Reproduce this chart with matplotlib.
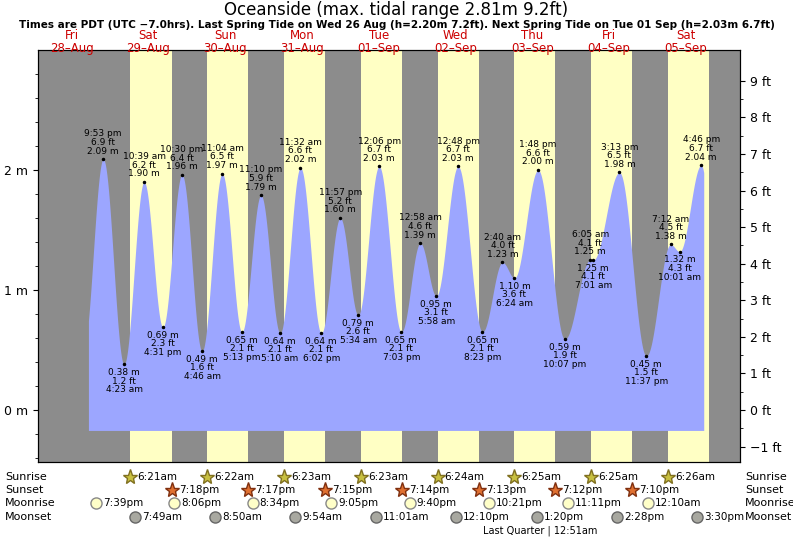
import matplotlib
matplotlib.use("Agg")
import matplotlib.pyplot as plt
import matplotlib.transforms as mtrans
import numpy as np

# hours from 28-Aug 00:00
def h(day, hh, mm):  # day offset from 28-Aug
    return day*24 + hh + mm/60

tide_times = [h(0,21,53), h(1,4,23), h(1,10,39), h(1,16,31), h(1,22,30),
              h(2,4,46), h(2,11,4), h(2,17,13), h(2,23,10),
              h(3,5,10), h(3,11,32), h(3,18,2), h(3,23,57),
              h(4,5,34), h(4,12,6), h(4,19,3),
              h(5,0,58), h(5,5,58), h(5,12,48), h(5,20,23),
              h(6,2,40), h(6,6,24), h(6,13,48), h(6,22,7),
              h(7,6,5), h(7,7,1), h(7,15,13), h(7,23,37),
              h(8,7,12), h(8,10,1), h(8,16,46)]
tide_m = [2.09, 0.38, 1.90, 0.69, 1.96, 0.49, 1.97, 0.65, 1.79, 0.64, 2.02, 0.64, 1.60,
          0.79, 2.03, 0.65, 1.39, 0.95, 2.03, 0.65, 1.23, 1.10, 2.00, 0.59,
          1.25, 1.25, 1.98, 0.45, 1.38, 1.32, 2.04]
tide_ft = [6.9, 1.2, 6.2, 2.3, 6.4, 1.6, 6.5, 2.1, 5.9, 2.1, 6.6, 2.1, 5.2,
           2.6, 6.7, 2.1, 4.6, 3.1, 6.7, 2.1, 4.0, 3.6, 6.6, 1.9,
           4.1, 4.1, 6.5, 1.5, 4.5, 4.3, 6.7]
tide_lbl = ["9:53 pm", "4:23 am", "10:39 am", "4:31 pm", "10:30 pm", "4:46 am", "11:04 am", "5:13 pm",
            "11:10 pm", "5:10 am", "11:32 am", "6:02 pm", "11:57 pm", "5:34 am", "12:06 pm", "7:03 pm",
            "12:58 am", "5:58 am", "12:48 pm", "8:23 pm", "2:40 am", "6:24 am", "1:48 pm", "10:07 pm",
            "6:05 am", "7:01 am", "3:13 pm", "11:37 pm", "7:12 am", "10:01 am", "4:46 pm"]
tide_high = [i % 2 == 0 for i in range(len(tide_m))]

sunrise = ["6:21am", "6:22am", "6:23am", "6:23am", "6:24am", "6:25am", "6:25am", "6:26am"]
sunrise_h = [h(1+i, 6, m) for i, m in enumerate([21, 22, 23, 23, 24, 25, 25, 26])]
sunset = ["7:18pm", "7:17pm", "7:15pm", "7:14pm", "7:13pm", "7:12pm", "7:10pm"]
sunset_h = [h(1+i, 19, m) for i, m in enumerate([18, 17, 15, 14, 13, 12, 10])]
sunset_last_h = h(8, 19, 9)
moonrise = ["7:39pm", "8:06pm", "8:34pm", "9:05pm", "9:40pm", "10:21pm", "11:11pm", "12:10am"]
moonrise_h = [h(0,19,39), h(1,20,6), h(2,20,34), h(3,21,5), h(4,21,40), h(5,22,21), h(6,23,11), h(8,0,10)]
moonset = ["7:49am", "8:50am", "9:54am", "11:01am", "12:10pm", "1:20pm", "2:28pm", "3:30pm"]
moonset_h = [h(1,7,49), h(2,8,50), h(3,9,54), h(4,11,1), h(5,12,10), h(6,13,20), h(7,14,28), h(8,15,30)]
days = ["Fri\n28\u2013Aug", "Sat\n29\u2013Aug", "Sun\n30\u2013Aug", "Mon\n31\u2013Aug", "Tue\n01\u2013Sep",
        "Wed\n02\u2013Sep", "Thu\n03\u2013Sep", "Fri\n04\u2013Sep", "Sat\n05\u2013Sep"]

# curve with cosine interpolation
tt = [h(0,15,40)] + tide_times + [h(8,23,0)]
vv = [0.5] + tide_m + [0.5]
xs, ys = [], []
for i in range(len(tt)-1):
    t = np.linspace(tt[i], tt[i+1], 40)
    f = (1 - np.cos(np.pi*(t-tt[i])/(tt[i+1]-tt[i])))/2
    xs.append(t); ys.append(vv[i] + (vv[i+1]-vv[i])*f)
xs = np.concatenate(xs); ys = np.concatenate(ys)
msk = (xs >= 17.2) & (xs <= 209.6)
xs, ys = xs[msk], ys[msk]

fig = plt.figure(figsize=(7.93, 5.39), dpi=100)
ax = fig.add_axes([38/793, 77/539, 702/793, 412/539])
ax.set_facecolor("#8c8c8c")
x0, x1 = 1.5, 220.9
ax.set_xlim(x0, x1)
ax.set_ylim(-0.433, 3.0)
for r, s in zip(sunrise_h, sunset_h + [sunset_last_h]):
    ax.axvspan(r, s, color="#ffffc4", lw=0)
ax.fill_between(xs, -0.17, ys, color="#9ca6ff", lw=0)
for t, m, ft, lb, hi in zip(tide_times, tide_m, tide_ft, tide_lbl, tide_high):
    ax.plot(t, m, "k.", ms=3)
    if hi:
        ax.text(t, m+0.03, f"{lb}\n{ft} ft\n{m:.2f} m", ha="center", va="bottom", fontsize=6.5, linespacing=0.95)
    else:
        ax.text(t, m-0.03, f"{m:.2f} m\n{ft} ft\n{lb}", ha="center", va="top", fontsize=6.5, linespacing=0.95)
ax.set_xticks([])
ax.set_yticks([0, 1, 2])
ax.set_yticklabels(["0 m", "1 m", "2 m"], fontsize=9)
ax.set_yticks(np.arange(-0.4, 3.0, 0.2), minor=True)
ax2 = ax.twinx()
ax2.set_ylim(-0.433*3.28084, 3.0*3.28084)
ax2.set_yticks(range(-1, 10))
ax2.set_yticklabels([f"{v} ft".replace("-", "\u2212") for v in range(-1, 10)], fontsize=9)
ax2.set_yticks(np.arange(-1, 9.5, 0.5), minor=True)

fig.text(0.5, 1-10/539, "Oceanside (max. tidal range 2.81m 9.2ft)", ha="center", va="center", fontsize=12)
fig.text(0.5, 1-25/539, "Times are PDT (UTC \u22127.0hrs). Last Spring Tide on Wed 26 Aug (h=2.20m 7.2ft). Next Spring Tide on Tue 01 Sep (h=2.03m 6.7ft)",
         ha="center", va="center", fontsize=7.5, fontweight="bold")
bt = mtrans.blended_transform_factory(ax.transData, fig.transFigure)
for i, d in enumerate(days):
    fig.text(i*24+12, 1-42/539, d, transform=bt, ha="center", va="center", fontsize=8.5, color="#cc0000", linespacing=0.95)

rows = {"Sunrise": 477, "Sunset": 490, "Moonrise": 503, "Moonset": 517}
for name, y in rows.items():
    fig.text(5/793, 1-y/539, name, ha="left", va="center", fontsize=8)
    fig.text(745/793, 1-y/539, name, ha="left", va="center", fontsize=8)
def row(times, labels, y, **kw):
    for t, l in zip(times, labels):
        fig.lines.append(plt.Line2D([t], [1-y/539], transform=bt, **kw))
        fig.text(t+2.2, 1-y/539, l, transform=bt, ha="left", va="center", fontsize=7.5)
row(sunrise_h, sunrise, 477, marker="*", ms=11, mfc="#c8c040", mec="#807020", ls="none")
row(sunset_h, sunset, 490, marker="*", ms=11, mfc="#e07030", mec="#803010", ls="none")
row(moonrise_h, moonrise, 503, marker="o", ms=8, mfc="#ffffc8", mec="#888888", ls="none")
row(moonset_h, moonset, 517, marker="o", ms=8, mfc="#a8a8a0", mec="#666666", ls="none")
fig.text(540/793, 1-531/539, "Last Quarter | 12:51am", ha="center", va="center", fontsize=7)
fig.savefig("out.png", dpi=100)
